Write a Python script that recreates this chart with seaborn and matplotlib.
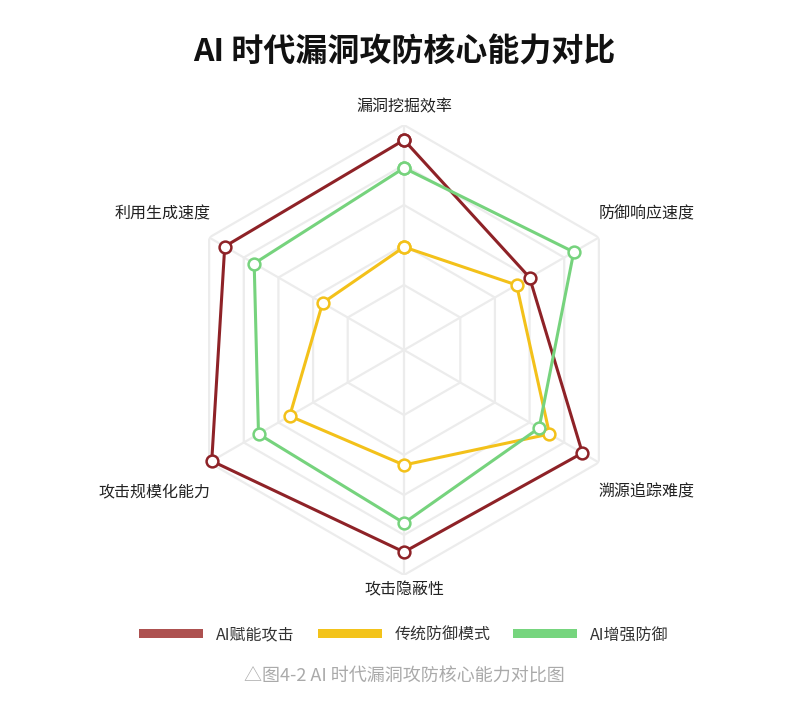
import numpy as np
import pandas as pd
import matplotlib
matplotlib.use('Agg')
import matplotlib.pyplot as plt
from matplotlib.patches import Patch
import seaborn as sns

# axis names, clockwise from top
dimensions = ['漏洞挖掘效率', '防御响应速度', '溯源追踪难度', '攻击隐蔽性', '攻击规模化能力', '利用生成速度']
series_names = ['AI赋能攻击', '传统防御模式', 'AI增强防御']
ai_attack = [92.5, 60, 90.5, 88.5, 98.5, 91]
traditional_defense = [39, 52.5, 71.5, 45, 53.5, 34.5]
ai_defense = [78.5, 85.5, 65.5, 74, 71.5, 74]
grid_levels = [20, 40, 60, 80, 100]

line_colors = ['#8e2227', '#f3c11a', '#76d37d']
legend_colors = ['#ad5150', '#f3c31a', '#76d57e']

sns.set_theme(style='white')
plt.rcParams['font.family'] = ['Noto Sans CJK SC', 'DejaVu Sans']

fig = plt.figure(figsize=(7.98, 7.05), dpi=100)
ax = fig.add_axes([179 / 798, 130 / 705, 450 / 798, 450 / 705], projection='polar')
ax.set_theta_zero_location('N')
ax.set_theta_direction(-1)
r_min, r_max = -12.5, 100
ax.set_ylim(r_min, r_max)
ax.set_xticks([])
ax.set_yticks([])
ax.grid(False)
ax.spines['polar'].set_visible(False)
ax.patch.set_alpha(0)

n = len(dimensions)
angles = np.linspace(0, 2 * np.pi, n, endpoint=False)
closed = np.append(angles, 2 * np.pi)

# hexagon grid + spokes
grid_color = '#ececec'
for lv in grid_levels:
    ax.plot(closed, [lv] * (n + 1), color=grid_color, lw=1.6, zorder=1)
for a in angles:
    ax.plot([a, a], [r_min, r_max], color=grid_color, lw=1.6, zorder=1)

rows = []
for name, vals in zip(series_names, [ai_attack, traditional_defense, ai_defense]):
    for th, v in zip(closed, list(vals) + [vals[0]]):
        rows.append({'series': name, 'theta': th, 'value': v})
df = pd.DataFrame(rows)

for i, name in enumerate(series_names):
    sns.lineplot(data=df[df['series'] == name], x='theta', y='value', ax=ax,
                 sort=False, estimator=None, color=line_colors[i], lw=2.2,
                 marker='o', markersize=8.5, markerfacecolor='white',
                 markeredgecolor=line_colors[i], markeredgewidth=1.8,
                 clip_on=False, zorder=3 + i)
ax.set_xlabel('')
ax.set_ylabel('')

# axis labels
label_pos = [
    (0, 18, 'center'),
    (0, 24, 'left'),
    (0, -29, 'left'),
    (0, -15, 'center'),
    (1, -29, 'right'),
    (1, 24, 'right'),
]
for a, lab, (dx, dy, ha) in zip(angles, dimensions, label_pos):
    ax.annotate(lab, xy=(a, r_max), xytext=(dx, dy), textcoords='offset pixels',
                ha=ha, va='center', fontsize=11.5, color='#222222',
                annotation_clip=False)

fig.text(404 / 798, 1 - 53 / 705, 'AI 时代漏洞攻防核心能力对比', ha='center', va='center',
         fontsize=23, fontweight='bold', color='#111111')

handles = [Patch(facecolor=c, edgecolor='none') for c in legend_colors]
leg = fig.legend(handles, series_names, loc='center', bbox_to_anchor=(404 / 798, 1 - 635 / 705),
                 ncol=3, frameon=False, handlelength=4.0, handleheight=0.5,
                 handletextpad=0.8, columnspacing=1.45, fontsize=11.5)
for t in leg.get_texts():
    t.set_color('#333333')

fig.text(404 / 798, 1 - 677 / 705, '△图4-2 AI 时代漏洞攻防核心能力对比图', ha='center', va='center',
         fontsize=13, color='#aaaaaa')

fig.savefig('out.png', dpi=100)
